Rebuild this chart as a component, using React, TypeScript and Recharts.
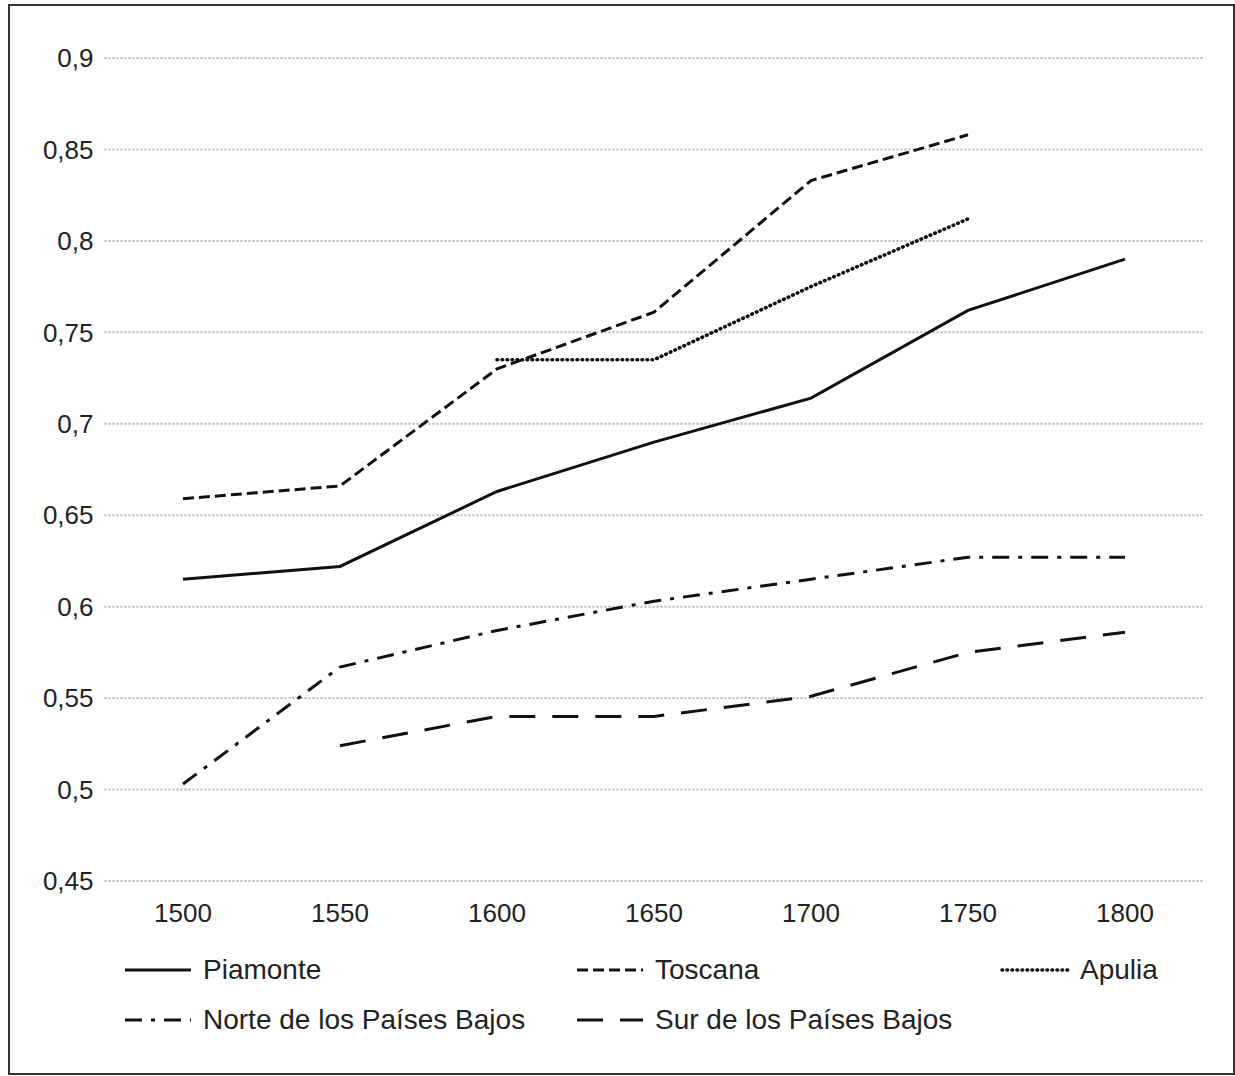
import { CartesianGrid, Line, LineChart, XAxis, YAxis } from "recharts";

const years = ["1500", "1550", "1600", "1650", "1700", "1750", "1800"];
const piamonte = [0.615, 0.622, 0.663, 0.69, 0.714, 0.762, 0.79];
const toscana = [0.659, 0.666, 0.73, 0.761, 0.833, 0.858, null];
const apulia = [null, null, 0.735, 0.735, 0.775, 0.812, null];
const norte = [0.503, 0.567, 0.587, 0.603, 0.615, 0.627, 0.627];
const sur = [null, 0.524, 0.54, 0.54, 0.551, 0.575, 0.586];
const yTicks = [0.45, 0.5, 0.55, 0.6, 0.65, 0.7, 0.75, 0.8, 0.85, 0.9];

const data = years.map((year, i) => ({
	year,
	Piamonte: piamonte[i],
	Toscana: toscana[i],
	Apulia: apulia[i],
	"Norte de los Países Bajos": norte[i],
	"Sur de los Países Bajos": sur[i],
}));

const series = [
	{ key: "Piamonte", dash: undefined, cap: "butt", width: 3 },
	{ key: "Toscana", dash: "11 5", cap: "butt", width: 3 },
	{ key: "Apulia", dash: "0.6 4.4", cap: "round", width: 3.6 },
	{ key: "Norte de los Países Bajos", dash: "17 9 4 9", cap: "butt", width: 3 },
	{ key: "Sur de los Países Bajos", dash: "26 17", cap: "butt", width: 3 },
] as const;

// legend slots: [left, top] of each sample line
const legendSlots = [
	[123, 970],
	[575, 970],
	[1000, 970],
	[123, 1020],
	[575, 1020],
];

const FONT = "'Liberation Sans', Arial, sans-serif";
const INK = "#111";

function LegendBlock() {
	return (
		<>
			{series.map((s, i) => {
				const [x, y] = legendSlots[i];
				return (
					<div
						key={s.key}
						style={{
							position: "absolute",
							left: x,
							top: y - 18,
							height: 36,
							display: "flex",
							alignItems: "center",
							fontFamily: FONT,
							fontSize: 28,
							color: "#222",
							whiteSpace: "nowrap",
						}}
					>
						<svg width={70} height={8} style={{ marginRight: 10 }}>
							<line
								x1={2}
								y1={4}
								x2={68}
								y2={4}
								stroke={INK}
								strokeWidth={s.width}
								strokeDasharray={s.dash}
								strokeLinecap={s.cap}
							/>
						</svg>
						{s.key}
					</div>
				);
			})}
		</>
	);
}

export default function App() {
	return (
		<div
			style={{
				position: "absolute",
				left: 0,
				top: 0,
				width: 1235,
				height: 1076,
				background: "#fff",
			}}
		>
			<div
				style={{
					position: "absolute",
					left: 8,
					top: 4,
					width: 1223,
					height: 1067,
					border: "2px solid #333",
				}}
			/>
			<div style={{ position: "absolute", left: 0, top: 0 }}>
				<LineChart
					width={1235}
					height={941}
					data={data}
					margin={{ top: 58, right: 31.5, bottom: 0, left: 0 }}
				>
					<CartesianGrid
						vertical={false}
						stroke="#b5b5b5"
						strokeWidth={2}
						strokeDasharray="2 2"
					/>
					<XAxis
						dataKey="year"
						axisLine={false}
						tickLine={false}
						tickSize={0}
						tickMargin={23}
						height={60}
						padding={{ left: 78.5, right: 78.5 }}
						tick={{ fill: "#222", fontSize: 26, fontFamily: FONT }}
						interval={0}
					/>
					<YAxis
						type="number"
						domain={[0.45, 0.9]}
						ticks={yTicks}
						axisLine={false}
						tickLine={false}
						tickSize={0}
						tickMargin={11}
						width={104.5}
						interval={0}
						tick={{ fill: "#222", fontSize: 26, fontFamily: FONT }}
						tickFormatter={(v: number) => String(v).replace(".", ",")}
					/>
					{series.map((s) => (
						<Line
							key={s.key}
							type="linear"
							dataKey={s.key}
							stroke={INK}
							strokeWidth={s.width}
							strokeDasharray={s.dash}
							strokeLinecap={s.cap}
							dot={false}
							activeDot={false}
							isAnimationActive={false}
						/>
					))}
				</LineChart>
			</div>
			<LegendBlock />
		</div>
	);
}
